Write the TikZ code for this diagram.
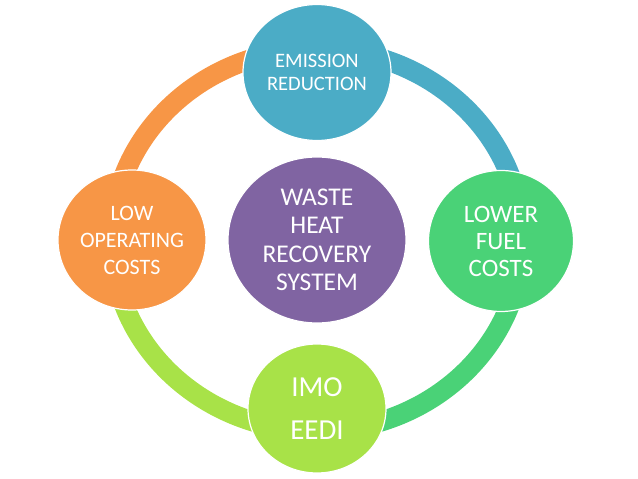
\documentclass[tikz,border=0pt]{standalone}
\usepackage{fontspec}
\setmainfont{Carlito}
\usetikzlibrary{shapes.geometric}

\definecolor{wasteBlue}{HTML}{4BACC6}
\definecolor{wasteOrange}{HTML}{F79646}
\definecolor{wastePurple}{HTML}{8064A2}
\definecolor{wasteGreen}{HTML}{4AD277}
\definecolor{wasteLime}{HTML}{A8E248}

\begin{document}
\begin{tikzpicture}[
  x=1pt, y=1pt,
  bubble/.style={ellipse, draw=white, line width=1.2pt, text=white, align=center, inner sep=0pt},
  ring/.style={line width=20pt}
]
\useasboundingbox (-317,-239) rectangle (321,240);

% the ring round the system
\coordinate (ringN) at (90:205pt and 191pt);
\coordinate (ringW) at (180:205pt and 191pt);
\coordinate (ringS) at (270:205pt and 191pt);
\coordinate (ringE) at (0:205pt and 191pt);

\draw[ring, draw=wasteOrange] (ringN) arc[start angle=90, end angle=180, x radius=205pt, y radius=191pt];
\draw[ring, draw=wasteLime] (ringW) arc[start angle=180, end angle=270, x radius=205pt, y radius=191pt];
\draw[ring, draw=wasteGreen] (ringS) arc[start angle=270, end angle=360, x radius=205pt, y radius=191pt];
\draw[ring, draw=wasteBlue] (ringE) arc[start angle=0, end angle=90, x radius=205pt, y radius=191pt];

% centre
\node[bubble, fill=wastePurple, minimum width=178pt, minimum height=166pt,
  font=\fontsize{25.5}{28.5}\selectfont] (whrs) at (0,0) {WASTE\\HEAT\\RECOVERY\\SYSTEM};

% benefits
\node[bubble, fill=wasteBlue, minimum width=148pt, minimum height=136pt,
  font=\fontsize{20.5}{22.5}\selectfont] (emission) at (0,167.5) {EMISSION\\REDUCTION};
\node[bubble, fill=wasteGreen, minimum width=145pt, minimum height=141pt,
  font=\fontsize{25}{27}\selectfont] (fuel) at (184,-1) {LOWER\\FUEL\\COSTS};
\node[bubble, fill=wasteLime, minimum width=138pt, minimum height=129pt,
  font=\fontsize{29}{43}\selectfont] (imo) at (0,-168.5) {IMO\\EEDI};
\node[bubble, fill=wasteOrange, minimum width=148pt, minimum height=140pt,
  font=\fontsize{22}{27}\selectfont] (operating) at (-185,0) {LOW\\OPERATING\\COSTS};

\end{tikzpicture}
\end{document}
